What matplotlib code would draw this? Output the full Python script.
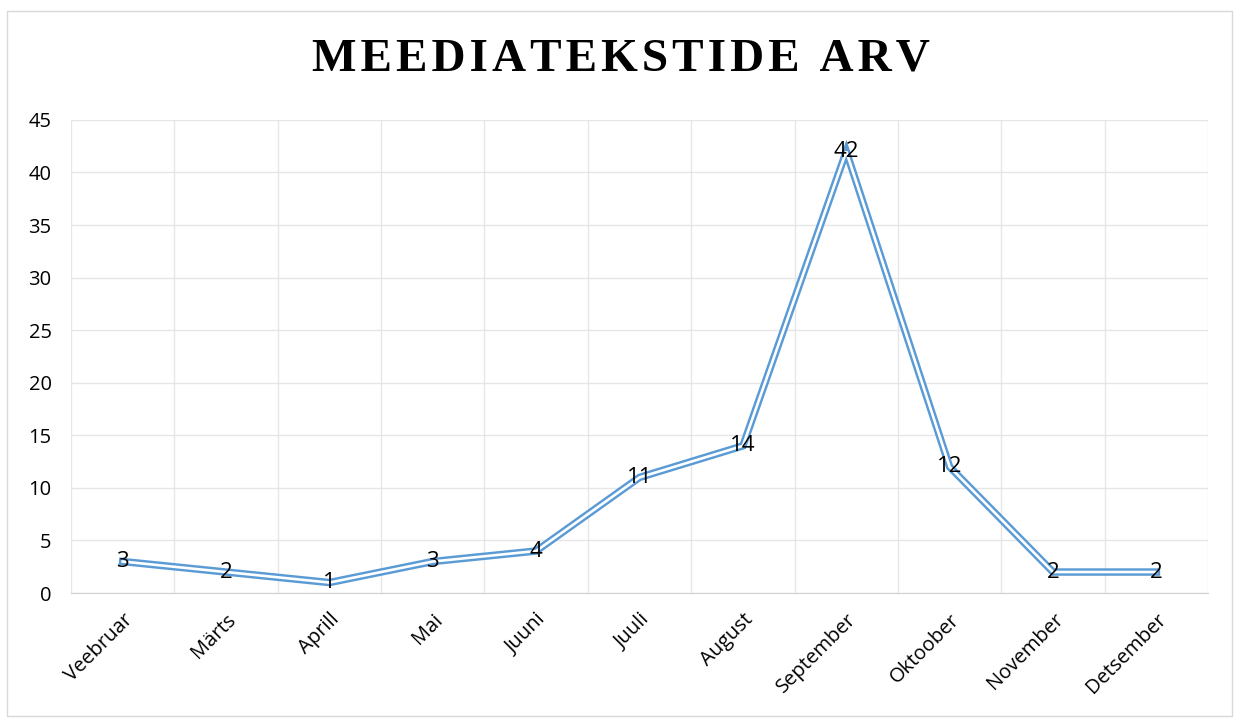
import matplotlib
matplotlib.use("Agg")
import matplotlib.pyplot as plt
import matplotlib.patches as patches

# --- Données ---
kuud = ["Veebruar", "Märts", "Aprill", "Mai", "Juuni", "Juuli",
        "August", "September", "Oktoober", "November", "Detsember"]
arv = [3, 2, 1, 3, 4, 11, 14, 42, 12, 2, 2]
pealkiri = "MEEDIATEKSTIDE ARV"

sinine = "#5B9BD5"
ruudustik = "#E6E6E6"

fig = plt.figure(figsize=(12.34, 7.18), dpi=100)
ax = fig.add_axes([0.0575, 0.174, 0.9215, 0.659])

x = list(range(len(kuud)))

# topeltjoon : paks sinine + valge keskel
ax.plot(x, arv, color=sinine, linewidth=5.4, solid_joinstyle="miter", zorder=3)
ax.plot(x, arv, color="white", linewidth=1.9, solid_joinstyle="miter", zorder=4)

for xi, v in zip(x, arv):
    ax.text(xi, v, str(v), ha="center", va="center", fontsize=16,
            family="Open Sans", color="black", zorder=5)

ax.set_xlim(-0.5, len(kuud) - 0.5)
ax.set_ylim(0, 45)
ax.set_yticks(range(0, 46, 5))
ax.set_xticks(x)
ax.set_xticklabels(kuud, rotation=45, ha="right", rotation_mode="anchor",
                   fontsize=14.5, family="Open Sans")
for lbl in ax.get_yticklabels():
    lbl.set_family("Open Sans")
    lbl.set_fontsize(14.5)

# vertikaalsed jooned kategooriate vahel
ax.set_xticks([i - 0.5 for i in range(len(kuud) + 1)], minor=True)
ax.grid(True, which="minor", axis="x", color=ruudustik, linewidth=1)
ax.grid(True, which="major", axis="y", color=ruudustik, linewidth=1)
ax.set_axisbelow(True)

ax.tick_params(axis="both", which="both", length=0)
ax.tick_params(axis="y", pad=14)
ax.tick_params(axis="x", pad=12)
for s in ["top", "right", "left"]:
    ax.spines[s].set_visible(False)
ax.spines["bottom"].set_color("#D0D0D0")

# pealkiri hõreda tähevahega
fig.text(0.503, 0.917, "\u200a".join(pealkiri), ha="center", va="center",
         fontsize=34, fontweight="bold", family="Liberation Serif")

# raam ümber joonise
fig.patches.append(patches.Rectangle((0.006, 0.003), 0.992, 0.982,
                                     transform=fig.transFigure, fill=False,
                                     edgecolor="#D9D9D9", linewidth=1))

fig.savefig("out.png", dpi=100)
